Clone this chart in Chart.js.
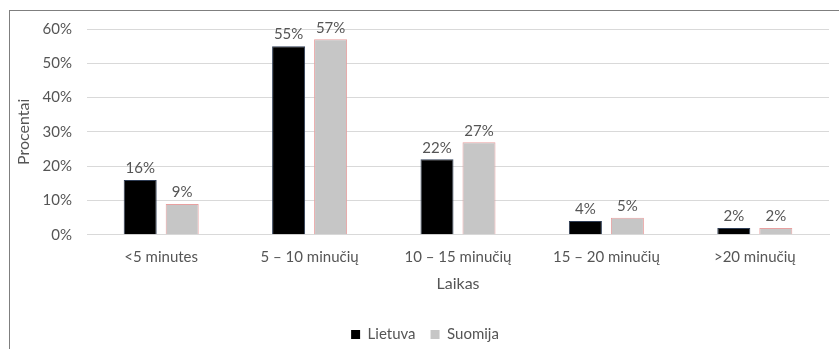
<!DOCTYPE html>
<html>
<head>
<meta charset="utf-8">
<script src="https://cdn.jsdelivr.net/npm/chart.js@4/dist/chart.umd.min.js"></script>
<style>
  html, body { margin: 0; padding: 0; background: #fff; overflow: hidden; }
  #wrap { position: relative; width: 839px; height: 349px; overflow: hidden; }
  #frame { position: absolute; left: 9px; top: 10px; width: 900px; height: 400px;
           border: 1px solid #7f7f7f; box-sizing: border-box; }
  #c { position: absolute; left: 0; top: 0; }
</style>
</head>
<body>
<div id="wrap">
  <div id="frame"></div>
  <canvas id="c" width="839" height="349"></canvas>
</div>
<script>
// Travel time shares by country
const categories = ['<5 minutes', '5 – 10 minučių', '10 – 15 minučių', '15 – 20 minučių', '>20 minučių'];
const lietuva = [16, 55, 22, 4, 2];
const suomija = [9, 57, 27, 5, 2];
const yTicks = [0, 10, 20, 30, 40, 50, 60];

const TEXT = '#555555';
const FONT = 'Lato, "Open Sans", sans-serif';

// Writes the percentage above each bar
const barValueLabels = {
  id: 'barValueLabels',
  afterDatasetsDraw(chart) {
    const ctx = chart.ctx;
    ctx.save();
    ctx.font = '15px ' + FONT;
    ctx.fillStyle = TEXT;
    ctx.textAlign = 'center';
    ctx.textBaseline = 'bottom';
    chart.data.datasets.forEach((ds, i) => {
      chart.getDatasetMeta(i).data.forEach((bar, j) => {
        ctx.fillText(ds.data[j] + '%', bar.x, bar.y - 4);
      });
    });
    ctx.restore();
  }
};

new Chart(document.getElementById('c'), {
  type: 'bar',
  data: {
    labels: categories,
    datasets: [
      { label: 'Lietuva', data: lietuva, backgroundColor: '#000000',
        borderColor: '#2f3d55', borderWidth: 1 },
      { label: 'Suomija', data: suomija, backgroundColor: '#c6c6c6',
        borderColor: '#e8a0a0', borderWidth: 1 }
    ]
  },
  options: {
    responsive: false,
    animation: false,
    devicePixelRatio: 1,
    categoryPercentage: 0.566,
    barPercentage: 0.786,
    layout: { padding: { top: 29, right: 10, bottom: -3, left: 21 } },
    scales: {
      x: {
        grid: { display: false, drawTicks: false },
        border: { color: '#d9d9d9' },
        ticks: { color: TEXT, font: { family: FONT, size: 15 }, padding: 13, maxRotation: 0, autoSkip: false },
        title: { display: true, text: 'Laikas', color: TEXT, font: { family: FONT, size: 16 },
                 padding: { top: -5, bottom: 19 } }
      },
      y: {
        min: 0, max: 60,
        afterFit(scale) { scale.width = 66; },
        afterBuildTicks(scale) { scale.ticks = yTicks.map(v => ({ value: v })); },
        grid: { color: '#d9d9d9', drawTicks: false },
        border: { display: false },
        ticks: { color: TEXT, font: { family: FONT, size: 15 }, padding: 15,
                 callback: v => v + '%' },
        title: { display: true, text: 'Procentai', color: TEXT, font: { family: FONT, size: 16 },
                 padding: { top: -7, bottom: 0 } }
      }
    },
    plugins: {
      legend: {
        position: 'bottom',
        labels: {
          color: TEXT, font: { family: FONT, size: 15 },
          boxWidth: 9, boxHeight: 9, padding: 15,
          generateLabels(chart) {
            return chart.data.datasets.map((ds, i) => ({
              text: ds.label, fillStyle: ds.backgroundColor, strokeStyle: ds.backgroundColor,
              lineWidth: 0, fontColor: TEXT, datasetIndex: i, hidden: false
            }));
          }
        }
      },
      tooltip: { enabled: false }
    }
  },
  plugins: [barValueLabels]
});
</script>
</body>
</html>
